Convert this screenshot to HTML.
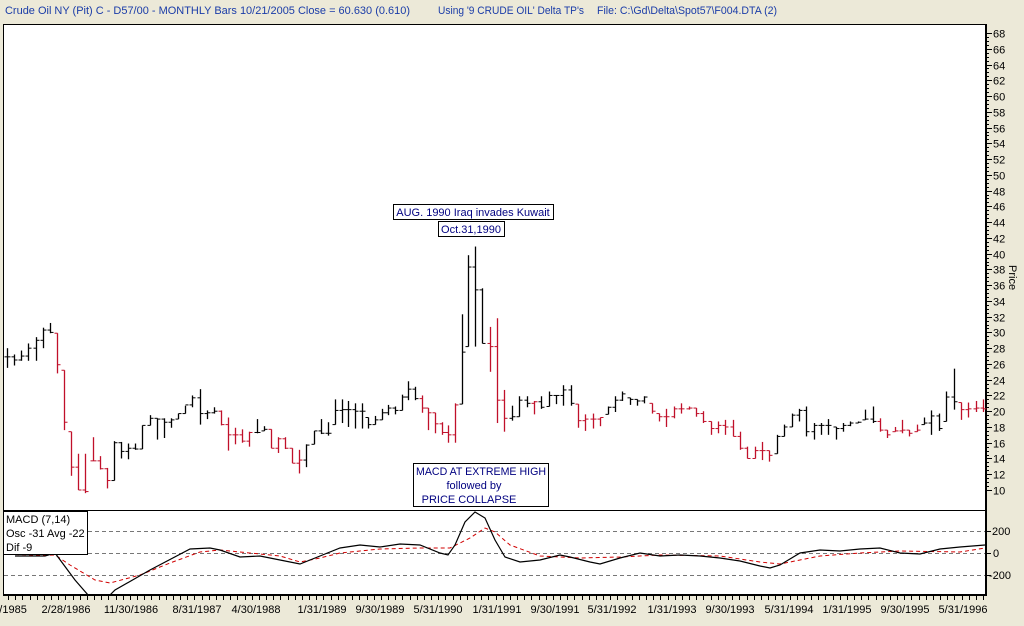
<!DOCTYPE html>
<html><head><meta charset="utf-8"><style>
html,body{margin:0;padding:0;background:#ece9d8;width:1024px;height:626px;overflow:hidden}
svg{display:block;font-family:"Liberation Sans",sans-serif}
</style></head><body>
<svg id="s" width="1024" height="626" xmlns="http://www.w3.org/2000/svg">
<rect width="1024" height="626" fill="#ece9d8"/>
<text x="5" y="14" font-size="11" fill="#1a3ca8" textLength="405" lengthAdjust="spacingAndGlyphs">Crude Oil NY (Pit) C - D57/00  - MONTHLY Bars  10/21/2005 Close = 60.630 (0.610)</text>
<text x="438" y="14" font-size="11" fill="#1a3ca8" textLength="146" lengthAdjust="spacingAndGlyphs">Using '9 CRUDE OIL' Delta TP's</text>
<text x="597" y="14" font-size="11" fill="#1a3ca8" textLength="180" lengthAdjust="spacingAndGlyphs">File: C:\Gd\Delta\Spot57\F004.DTA (2)</text>
<rect x="3" y="24" width="983" height="572" fill="#fff"/>
<line x1="3.5" y1="24" x2="3.5" y2="596" stroke="#000"/>
<line x1="3" y1="24.5" x2="986" y2="24.5" stroke="#000"/>
<line x1="986" y1="24" x2="986" y2="596" stroke="#000" stroke-width="2"/>
<line x1="3" y1="510.5" x2="986" y2="510.5" stroke="#000"/>
<line x1="3" y1="595" x2="987" y2="595" stroke="#000" stroke-width="2"/>
<g id="bars"></g><g id="ax"></g><g id="macd"></g>
<text x="1009" y="265" font-size="11" fill="#000" transform="rotate(90 1009 265)">Price</text>
<rect x="393.5" y="204.5" width="160" height="15" fill="#fff" stroke="#000"/>
<text x="473" y="216" font-size="11" fill="#000080" text-anchor="middle">AUG. 1990 Iraq invades Kuwait</text>
<rect x="438.5" y="221.5" width="66" height="15" fill="#fff" stroke="#000"/>
<text x="471" y="233" font-size="11" fill="#000080" text-anchor="middle">Oct.31,1990</text>
<rect x="413.5" y="463.5" width="135" height="43" fill="#fff" stroke="#000"/>
<text x="481" y="475" font-size="11" fill="#000080" text-anchor="middle" textLength="130" lengthAdjust="spacingAndGlyphs">MACD AT EXTREME HIGH</text>
<text x="474" y="489" font-size="11" fill="#000080" text-anchor="middle">followed by</text>
<text x="469" y="503" font-size="11" fill="#000080" text-anchor="middle">PRICE COLLAPSE</text>
<rect x="3.5" y="511.5" width="84" height="43" fill="#fff" stroke="#000"/>
<text x="6" y="523" font-size="11">MACD (7,14)</text>
<text x="6" y="537" font-size="11">Osc -31 Avg -22</text>
<text x="6" y="551" font-size="11">Dif -9</text>
</svg>
<script>
var D=[[28,25.5,26.9,0],[27.2,25.8,26.5,0],[27.7,26.4,27,0],[28.6,26.4,28,0],[29.4,26.4,29,0],[30.6,28,30.3,0],[31.2,29.9,30,0],
[29.9,24.8,25.9,1],[25.2,17.6,18.6,1],[17.4,11.8,12.9,1],[14.6,10,10,1],[14.6,9.6,9.8,1],[16.7,13.7,13.7,1],[14.3,12.6,12.7,1],[12.8,10.2,11.2,1],
[16.2,11.2,16,0],[16.1,14,14.9,0],[15.9,13.9,15.3,0],[15.9,15.1,15.2,0],[18.2,15.2,18.2,0],[19.5,18.2,19.1,0],[19.1,16.4,19,0],[19.1,16.6,18.6,0],[19.1,17.9,18.9,0],[19.7,19,19.7,0],[20.7,19.7,20.8,0],[22,20.5,21.7,0],[22.8,18.3,19.7,0],[20.1,19,19.8,0],[20.5,19.7,20,0],
[20.1,18.2,18.3,1],[19.2,15,17,1],[17.9,15.8,17,1],[17.7,16,16.2,1],[17.4,15.5,17.3,1],[19,17.2,17.3,0],[18.1,17.5,17.7,0],
[17.7,15.3,15.3,1],[16.7,14.7,16.5,1],[16.7,15.2,15.3,1],[15.3,13.4,13.4,1],[15.1,12.1,13.8,1],
[15.8,12.9,15.7,0],[17.5,15.8,17.5,0],[19,17.1,17.2,0],[18.6,16.9,17.2,0],[21.5,18.3,20.1,0],
[21.5,18.5,20.2,0],[21.3,18,20.2,0],[21,17.8,20,0],[21,17.8,20,0],[19.2,17.8,18.3,0],[19.4,18.3,18.9,0],[20.3,18.9,19.8,0],[20.8,19.5,20.4,0],[20.6,19.6,20.1,0],[22.1,20.1,21.8,0],[23.8,21.4,22.8,0],[23.1,21.4,21.6,0],
[22,19.8,20.4,1],[20.4,17.6,19.8,1],[19.8,17.2,18.4,1],[18.6,17,17.3,1],[18.2,16,17,1],[21,16,20.8,1],
[32.3,20.9,27.5,0],[39.8,28.2,38.3,0],[40.9,28.2,35.4,0],[35.6,28.6,28.6,0],
[30.7,25,28.2,1],[31.8,18.5,21.4,1],[22.7,17.4,19.1,1],
[20.7,18.8,19.3,0],[21.9,19.3,21.4,0],[21.9,20.5,21,0],[21.3,19.6,21.2,1],[21.9,20.3,20.5,0],[22.5,20.6,22,0],[22,20.9,22,0],[23.3,20.7,22.7,0],[23.3,20.7,21,0],
[20.9,17.9,18.8,1],[19.6,17.5,19,1],[19.7,17.8,19,1],[19.2,18.1,19.2,1],
[20.6,19.6,20.5,0],[21.9,19.9,21.4,0],[22.5,21.3,22.2,0],[21.7,20.8,21.5,0],[21.5,20.7,21.3,0],[21.9,21,21.8,0],
[21,19.7,20,1],[19.7,18.7,19.3,1],[20.3,18,19.3,1],[20.6,19.1,20.3,1],[21,19.7,20.3,1],[20.6,20.2,20.4,1],[20.4,19.3,19.7,1],[20,18.5,18.7,1],[18.7,17,17.8,1],[18.7,17.2,18.2,1],[18.9,17,18,1],[18.9,16.8,16.8,1],[17.4,15.1,15.3,1],[15.5,14,14,1],[15.5,14,15,1],[16.1,13.8,15,1],[15,13.6,14.4,1],
[17,14.6,16.8,0],[18.3,16.8,18,0],[19.7,18,19.5,0],[20.3,18.7,20.1,0],[20.6,16.8,17.4,0],[18.5,16.4,18.2,0],[18.5,17,18.2,0],[19,17,18.2,0],[18,16.4,17.8,0],[18.5,17.4,18.2,0],[18.7,18.1,18.5,0],[18.7,18.5,18.6,0],[20.2,18.9,19,0],[20.6,18.5,18.7,0],
[19.1,17.4,17.6,1],[17.6,16.6,17,1],[18,17.4,17.5,1],[18.9,17.2,17.6,1],[17.6,16.8,17.2,1],[18.3,17.4,17.6,1],
[19.2,18.3,18.5,0],[20.1,17,19.4,0],[19.7,17.5,17.8,0],[22.5,18.7,21.8,0],[25.4,20.2,21.2,0],
[21.1,18.9,20.2,1],[21.1,19.2,20.3,1],[21.3,19.9,20.4,1],[21.5,19.9,20.3,1]];
function Y(p){return 490-(p-10)*7.879;}
var A=[[0,7],[46,335],[67,475],[136,983]];
function X(i){for(var k=0;k<A.length-1;k++){if(i<=A[k+1][0]){var t=(i-A[k][0])/(A[k+1][0]-A[k][0]);return A[k][1]+t*(A[k+1][1]-A[k][1]);}}return 983;}
var h='',prev=D[0][2];
for(var i=0;i<D.length;i++){var d=D[i],x=Math.round(X(i))+0.5,c=d[3]?'#c0102a':'#000';
var o=Math.min(Math.max(prev,d[1]),d[0]);
h+='<line x1="'+x+'" y1="'+Y(d[0])+'" x2="'+x+'" y2="'+Y(d[1])+'" stroke="'+c+'" stroke-width="1.3"/>';
h+='<line x1="'+(x-3)+'" y1="'+Y(o)+'" x2="'+x+'" y2="'+Y(o)+'" stroke="'+c+'"/>';
h+='<line x1="'+x+'" y1="'+Y(d[2])+'" x2="'+(x+3)+'" y2="'+Y(d[2])+'" stroke="'+c+'"/>';prev=d[2];}
document.getElementById('bars').innerHTML=h;
var a='';
for(var p=10;p<=68;p+=0.5){var y=Math.round(Y(p))+0.5,maj=(p%2==0);
a+='<line x1="986" y1="'+y+'" x2="'+(maj?992:989)+'" y2="'+y+'" stroke="#000"/>';
if(maj)a+='<text x="993" y="'+(y+4)+'" font-size="11">'+p+'</text>';}
[[531,'200',992],[553,'0',993],[575,'-200',989]].forEach(function(t){a+='<line x1="986" y1="'+t[0]+'.5" x2="991" y2="'+t[0]+'.5" stroke="#000"/><text x="'+t[2]+'" y="'+(t[0]+4)+'" font-size="11">'+t[1]+'</text>';});
for(var i=0;i<140;i++){var x=Math.round(8+i*7.17)+0.5;if(x>986)break;a+='<line x1="'+x+'" y1="596" x2="'+x+'" y2="600" stroke="#000"/>';}
[[10,'0/1985'],[66,'2/28/1986'],[131,'11/30/1986'],[197,'8/31/1987'],[256,'4/30/1988'],[322,'1/31/1989'],[380,'9/30/1989'],[438,'5/31/1990'],[497,'1/31/1991'],[555,'9/30/1991'],[612,'5/31/1992'],[672,'1/31/1993'],[730,'9/30/1993'],[789,'5/31/1994'],[847,'1/31/1995'],[905,'9/30/1995'],[963,'5/31/1996']].forEach(function(t){a+='<text x="'+t[0]+'" y="613" font-size="11" text-anchor="middle">'+t[1]+'</text>';});
document.getElementById('ax').innerHTML=a;
var m='';[531,553,575].forEach(function(y){m+='<line x1="4" y1="'+y+'.5" x2="985" y2="'+y+'.5" stroke="#777" stroke-dasharray="4,3"/>';});
var B=[[15,556],[45,556],[55,553],[75,580],[95,603],[105,600],[115,590],[150,570],[190,549],[210,548],[220,550],[240,557],[260,556],[280,560],[300,564],[320,556],[340,548],[360,545],[380,547],[400,544],[420,545],[440,553],[448,555],[455,545],[465,522],[475,512],[485,518],[495,540],[505,557],[520,562],[540,560],[560,555],[570,557],[590,562],[600,564],[620,558],[640,553],[660,556],[680,555],[700,556],[720,558],[740,561],[760,566],[770,568],[780,565],[800,553],[820,550],[840,551],[860,549],[880,548],[900,553],[920,554],[940,549],[960,547],[985,545]];
var R=[[15,556],[55,555],[70,565],[95,580],[110,583],[140,575],[170,563],[200,552],[220,550],[240,552],[280,556],[300,562],[320,558],[340,553],[380,549],[420,548],[450,548],[470,538],[485,528],[495,532],[510,545],[540,556],[580,558],[620,557],[660,555],[720,556],[760,562],[780,564],[820,556],[860,553],[900,551],[960,552],[985,548]];
function pl(P){return P.map(function(q){return q.join(',');}).join(' ');}
m+='<clipPath id="cp"><rect x="4" y="511" width="981" height="84"/></clipPath><g clip-path="url(#cp)">';
m+='<polyline points="'+pl(R)+'" fill="none" stroke="#d00000" stroke-dasharray="4,3"/>';
m+='<polyline points="'+pl(B)+'" fill="none" stroke="#000" stroke-width="1.2"/></g>';
document.getElementById('macd').innerHTML=m;
</script>
</body></html>
